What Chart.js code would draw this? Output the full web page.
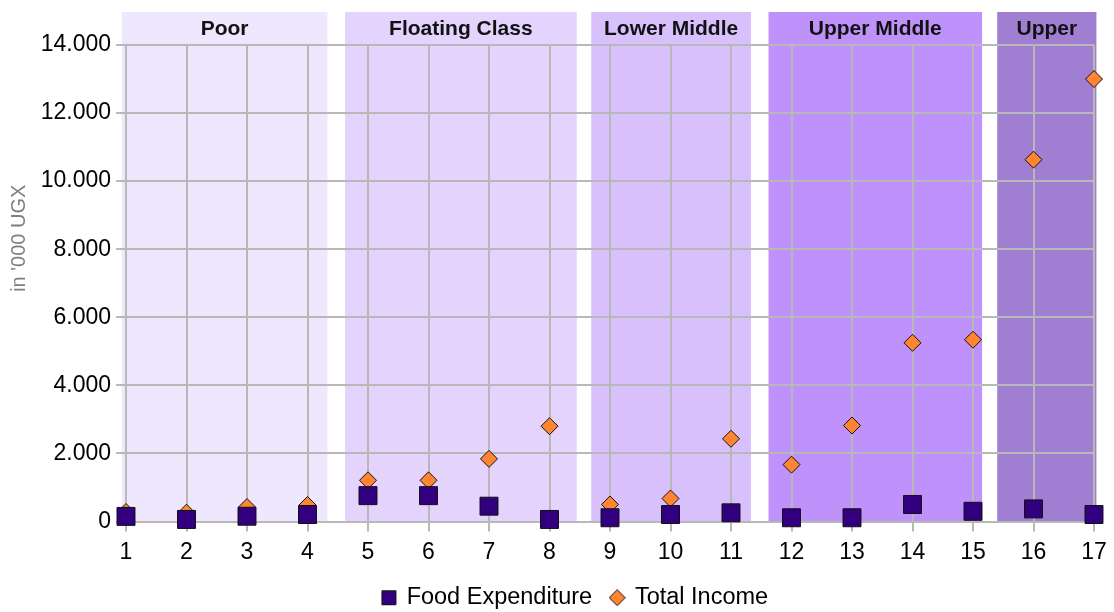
<!DOCTYPE html>
<html lang="en">
<head>
    <meta charset="UTF-8">
    <title>Food Expenditure and Total Income by Class</title>
    <style>
        body {
            margin: 0;
            padding: 0;
            background: #fff;
        }

        .chart-box {
            width: 1114px;
            height: 612px;
        }
    </style>
</head>
<body>

    <div class="chart-box">
        <canvas id="incomeChart"></canvas>
    </div>

    <script src="https://cdn.jsdelivr.net/npm/chart.js"></script>
    <script>
        // Households 1..17
        const households = [1, 2, 3, 4, 5, 6, 7, 8, 9, 10, 11, 12, 13, 14, 15, 16, 17];
        const foodExpenditure = [150, 60, 155, 205, 760, 760, 450, 60, 110, 205, 255, 110, 110, 500, 300, 370, 205];
        const totalIncome = [280, 260, 425, 485, 1210, 1210, 1840, 2800, 500, 675, 2430, 1670, 2820, 5250, 5340, 10630, 13000];

        // Class bands (in household units on the x axis)
        const classNames = ['Poor', 'Floating Class', 'Lower Middle', 'Upper Middle', 'Upper'];
        const classFrom = [0.93, 4.62, 8.69, 11.62, 15.40];
        const classTo = [4.33, 8.45, 11.33, 15.15, 17.04];
        const classColors = ['#efe7fd', '#e3d3fd', '#d8c0fc', '#bf92fb', '#a07fd2'];

        const yTicks = [0, 2000, 4000, 6000, 8000, 10000, 12000, 14000];

        const FONT = "'Liberation Sans', Arial, sans-serif";
        const FOOD_COLOR = '#32007f';
        const INCOME_COLOR = '#ff8533';

        function dotted(v) {
            return String(v).replace(/\B(?=(\d{3})+(?!\d))/g, '.');
        }

        // small marker images for the legend
        function legendMarker(kind, color) {
            const c = document.createElement('canvas');
            c.width = 17;
            c.height = 17;
            const g = c.getContext('2d');
            g.fillStyle = color;
            g.strokeStyle = '#111';
            g.lineWidth = 1;
            g.beginPath();
            if (kind === 'square') {
                g.rect(1.5, 1.5, 14, 14);
            } else {
                g.moveTo(8.5, 0.5);
                g.lineTo(16.5, 8.5);
                g.lineTo(8.5, 16.5);
                g.lineTo(0.5, 8.5);
                g.closePath();
            }
            g.fill();
            g.stroke();
            return c;
        }
        const legendIcons = [legendMarker('square', FOOD_COLOR), legendMarker('diamond', INCOME_COLOR)];

        // Draws the coloured class bands behind the grid, plus the y axis title
        const bandsPlugin = {
            id: 'classBands',
            afterLayout(chart) {
                // legend in the original is centred a bit right of the page centre
                if (chart.legend) chart.legend.left = 57;
            },
            beforeDraw(chart) {
                const { ctx, chartArea, scales } = chart;
                const top = chartArea.top - 33;
                ctx.save();
                classNames.forEach((name, i) => {
                    const x0 = scales.x.getPixelForValue(classFrom[i]);
                    const x1 = scales.x.getPixelForValue(classTo[i]);
                    ctx.fillStyle = classColors[i];
                    ctx.fillRect(x0, top, x1 - x0, chartArea.bottom - top);
                    ctx.fillStyle = '#111';
                    ctx.font = 'bold 21px ' + FONT;
                    ctx.textAlign = 'center';
                    ctx.textBaseline = 'middle';
                    ctx.fillText(name, (x0 + x1) / 2, top + 17);
                });

                // y axis title
                ctx.translate(19, (chartArea.top + chartArea.bottom) / 2 - 45);
                ctx.rotate(-Math.PI / 2);
                ctx.fillStyle = '#7f7f7f';
                ctx.font = '20px ' + FONT;
                ctx.textAlign = 'center';
                ctx.textBaseline = 'middle';
                ctx.fillText("in '000 UGX", 0, 0);
                ctx.restore();
            }
        };

        const ctx = document.getElementById('incomeChart').getContext('2d');
        const incomeChart = new Chart(ctx, {
            type: 'scatter',
            data: {
                datasets: [{
                    label: 'Food Expenditure',
                    data: households.map((h, i) => ({ x: h, y: foodExpenditure[i] })),
                    clip: false,
                    pointStyle: 'rect',
                    pointRadius: 12.7,
                    pointHoverRadius: 12.7,
                    backgroundColor: FOOD_COLOR,
                    borderColor: '#111',
                    borderWidth: 1
                }, {
                    label: 'Total Income',
                    data: households.map((h, i) => ({ x: h, y: totalIncome[i] })),
                    clip: false,
                    pointStyle: 'rectRot',
                    pointRadius: 8.5,
                    pointHoverRadius: 8.5,
                    backgroundColor: INCOME_COLOR,
                    borderColor: '#111',
                    borderWidth: 1
                }]
            },
            options: {
                responsive: true,
                maintainAspectRatio: false,
                animation: false,
                layout: {
                    padding: { top: 45, right: 20, left: 0, bottom: -7.5 }
                },
                plugins: {
                    legend: {
                        position: 'bottom',
                        labels: {
                            usePointStyle: true,
                            boxWidth: 12,
                            boxHeight: 15,
                            padding: 19,
                            color: '#000',
                            font: { family: FONT, size: 23.5 },
                            generateLabels: (chart) => {
                                const items = Chart.defaults.plugins.legend.labels.generateLabels(chart);
                                items.forEach((item, i) => { item.pointStyle = legendIcons[i]; });
                                return items;
                            }
                        }
                    },
                    tooltip: { enabled: false }
                },
                scales: {
                    x: {
                        type: 'linear',
                        min: 1,
                        max: 17,
                        afterBuildTicks: (scale) => {
                            scale.ticks = households.map(v => ({ value: v }));
                        },
                        afterFit: (scale) => { scale.height = 45.5; },
                        grid: {
                            color: '#b8b8b8',
                            lineWidth: 2,
                            tickLength: 10
                        },
                        border: { color: '#b8b8b8', width: 2 },
                        ticks: {
                            padding: 7,
                            color: '#000',
                            font: { family: FONT, size: 23 }
                        }
                    },
                    y: {
                        min: 0,
                        max: 14000,
                        afterBuildTicks: (scale) => {
                            scale.ticks = yTicks.map(v => ({ value: v }));
                        },
                        afterFit: (scale) => { scale.width = 126; },
                        grid: {
                            color: '#b8b8b8',
                            lineWidth: 2,
                            tickLength: 10
                        },
                        border: { color: '#b8b8b8', width: 2 },
                        ticks: {
                            padding: 5,
                            color: '#000',
                            font: { family: FONT, size: 23 },
                            callback: (value) => dotted(value)
                        }
                    }
                }
            },
            plugins: [bandsPlugin]
        });
    </script>

</body>
</html>
